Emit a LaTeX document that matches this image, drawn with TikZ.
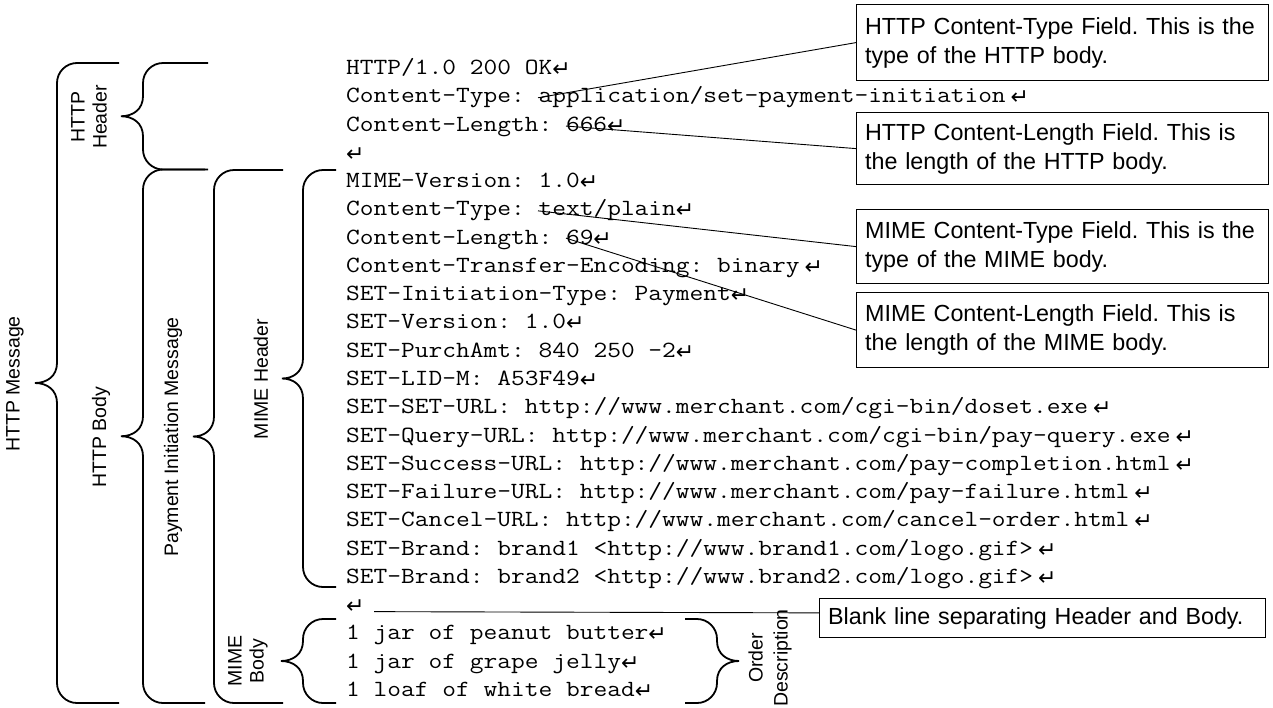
\documentclass[tikz,border=0pt]{standalone}
\usepackage{fontspec}
\setmainfont{Liberation Sans}
\newfontfamily\codefont[FakeStretch=1.15]{Latin Modern Mono}
\newfontfamily\arrowfont{DejaVu Sans}
\usetikzlibrary{calc}

% carriage-return mark at the end of each protocol line
\newcommand\crlf{\raisebox{-2pt}{\arrowfont\fontsize{22}{22}\selectfont ↵}}
\newcommand\spcrlf{\hspace{5pt}\crlf}

\tikzset{
  codeline/.style={anchor=base west, inner sep=0pt,
    font=\codefont\fontsize{23.2}{28}\selectfont},
  note/.style={draw, line width=1.2pt, anchor=north west, align=left,
    inner xsep=8.5pt, inner ysep=0pt, text width=395pt,
    font=\fontsize{23.3}{29}\selectfont},
  leader/.style={line width=0.9pt},
  bracestyle/.style={line width=1.8pt},
  blabel/.style={rotate=90, align=center, inner sep=0pt,
    font=\fontsize{19.5}{22}\selectfont},
}

% one line of the message, #2 = line number
\newcommand\codeln[3]{\node[codeline] (#1) at (346,{74.5+28.27*(#2-1)}) {#3};}

% curly brace: #1 spine x, #2 tip x, #3 top y, #4 bottom y, #5 arm end x
\newcommand\sidebrace[5]{%
  \pgfmathsetmacro\brMid{(#3+#4)/2}%
  \pgfmathsetmacro\brSg{(#5>#1) ? 1 : -1}%
  \pgfmathsetmacro\brCx{#1+\brSg*20}%
  \pgfmathsetmacro\brKx{#1+\brSg*9}%
  \pgfmathsetmacro\brQx{#2+0.55*(#1-#2)}%
  \draw[bracestyle] (#5,#3) -- (\brCx,#3)
    .. controls (\brKx,#3) and (#1,#3+9) .. (#1,#3+20)
    -- (#1,\brMid-20)
    .. controls (#1,\brMid-7) and (\brQx,\brMid) .. (#2,\brMid)
    .. controls (\brQx,\brMid) and (#1,\brMid+7) .. (#1,\brMid+20)
    -- (#1,#4-20)
    .. controls (#1,#4-9) and (\brKx,#4) .. (\brCx,#4) -- (#5,#4);
}

\begin{document}
\frenchspacing
\begin{tikzpicture}[x=1pt,y=-1pt]
\useasboundingbox (0,0) rectangle (1273,707);
\fill[white] (0,0) rectangle (1273,707);

% the message text
\codeln{l1}{1}{HTTP/1.0 200 OK\crlf}
\codeln{l2}{2}{Content-Type: application/set-payment-initiation\spcrlf}
\codeln{l3}{3}{Content-Length: 666\crlf}
\codeln{l4}{4}{\crlf}
\codeln{l5}{5}{MIME-Version: 1.0\crlf}
\codeln{l6}{6}{Content-Type: text/plain\crlf}
\codeln{l7}{7}{Content-Length: 69\crlf}
\codeln{l8}{8}{Content-Transfer-Encoding: binary\spcrlf}
\codeln{l9}{9}{SET-Initiation-Type: Payment\crlf}
\codeln{l10}{10}{SET-Version: 1.0\crlf}
\codeln{l11}{11}{SET-PurchAmt: 840 250 -2\crlf}
\codeln{l12}{12}{SET-LID-M: A53F49\crlf}
\codeln{l13}{13}{SET-SET-URL: http://www.merchant.com/cgi-bin/doset.exe\spcrlf}
\codeln{l14}{14}{SET-Query-URL: http://www.merchant.com/cgi-bin/pay-query.exe\spcrlf}
\codeln{l15}{15}{SET-Success-URL: http://www.merchant.com/pay-completion.html\spcrlf}
\codeln{l16}{16}{SET-Failure-URL: http://www.merchant.com/pay-failure.html\spcrlf}
\codeln{l17}{17}{SET-Cancel-URL: http://www.merchant.com/cancel-order.html\spcrlf}
\codeln{l18}{18}{SET-Brand: brand1 <http://www.brand1.com/logo.gif>\spcrlf}
\codeln{l19}{19}{SET-Brand: brand2 <http://www.brand2.com/logo.gif>\spcrlf}
\codeln{l20}{20}{\crlf}
\codeln{l21}{21}{1 jar of peanut butter\crlf}
\codeln{l22}{22}{1 jar of grape jelly\crlf}
\codeln{l23}{23}{1 loaf of white bread\crlf}

% explanatory notes
\node[note, minimum height=76pt] (b1) at (856,4)
  {HTTP Content-Type Field. This is the\\type of the HTTP body.};
\node[note, minimum height=72pt] (b2) at (856,112)
  {HTTP Content-Length Field. This is\\the length of the HTTP body.};
\node[note, minimum height=74pt] (b3) at (856,209)
  {MIME Content-Type Field. This is the\\type of the MIME body.};
\node[note, minimum height=75pt] (b4) at (856,292)
  {MIME Content-Length Field. This is\\the length of the MIME body.};
\node[note, text width=429pt, minimum height=39pt] (b5) at (819,598)
  {Blank line separating Header and Body.};

% leader lines from the fields to the notes
\coordinate (p1) at ($(l2.base west)+(192,-5)$);
\coordinate (p2) at ($(l3.base west)+(220,-5)$);
\coordinate (p3) at ($(l6.base west)+(192,-5)$);
\coordinate (p4) at ($(l7.base west)+(220,-6)$);
\coordinate (p5) at ($(l20.base west)+(28,0)$);
\coordinate (q5) at ($(b5.north west)!0.37!(b5.south west)$);
\draw[leader] (p1) -- (b1.west);
\draw[leader] (p2) -- (b2.west);
\draw[leader] (p3) -- (b3.west);
\draw[leader] (p4) -- (b4.west);
\draw[leader] (p5) -- (q5);

% grouping braces
\sidebrace{57}{35}{63}{703}{119}
\sidebrace{143}{121}{63}{169.5}{208}
\sidebrace{143}{121}{169.5}{703}{205}
\sidebrace{214}{193}{170}{703}{283}
\sidebrace{303}{282}{170}{587}{336}
\sidebrace{303}{281}{619}{703}{336}
\sidebrace{717}{739}{619}{703}{685}

% brace labels
\node[blabel] (tmsg) at (15,384) {HTTP Message};
\node[blabel] (thdr) at (89,117) {HTTP\\Header};
\node[blabel] (tbody) at (101,437) {HTTP Body};
\node[blabel] (tpim) at (173,437) {Payment Initiation Message};
\node[blabel] (tmh) at (261,379) {MIME Header};
\node[blabel] (tmb) at (248,661) {MIME\\Body};
\node[blabel, font=\fontsize{19.5}{25}\selectfont] (tord) at (770,658) {Order\\Description};
\end{tikzpicture}
\end{document}
